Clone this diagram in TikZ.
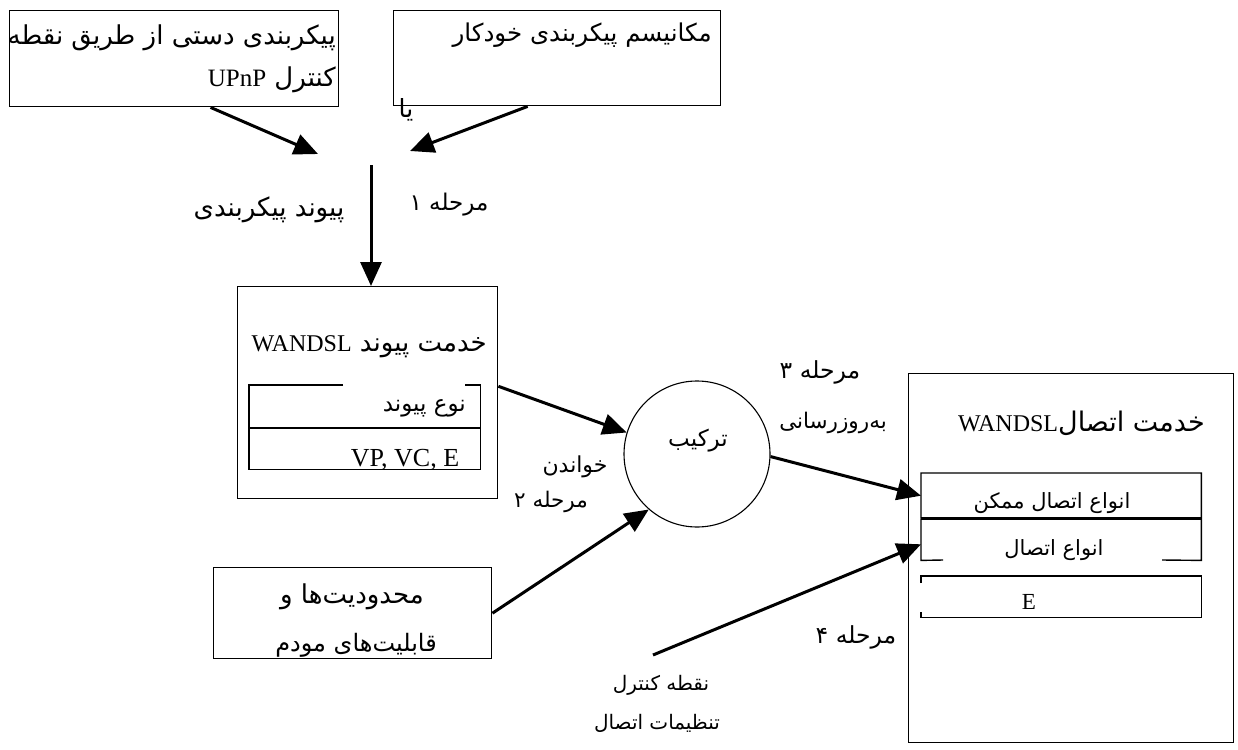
\documentclass[tikz,border=0pt]{standalone}
\usepackage{fontspec}
\setmainfont{Liberation Serif}
\newfontfamily\fa[Script=Arabic]{DejaVu Sans}
\TeXXeTstate=1
\usetikzlibrary{arrows.meta,calc}
\newcommand\fatxt[1]{\beginR #1\endR}
\newcommand\lat[2]{\beginL{\fontsize{#1}{#1}\selectfont\rmfamily #2}\endL}
\tikzset{
  box/.style={draw, line width=1.4pt, inner sep=0pt},
  hole/.style={inner sep=0pt},
  arr/.style={line width=3pt, -{Triangle[length=24pt,width=21pt]}},
  fatext/.style={font=\fa\fontsize{#1}{#1}\selectfont, inner sep=0pt},
  fatext/.default=25,
  latext/.style={font=\fontsize{#1}{#1}\selectfont, inner sep=0pt},
  latext/.default=23,
}
\begin{document}
\begin{tikzpicture}[x=1pt,y=-1pt]
\useasboundingbox (0,0) rectangle (1238,749);
% top boxes
\node[box, minimum width=329pt, minimum height=96pt, anchor=north west] (A) at (9,10) {};
\node[box, minimum width=327pt, minimum height=95pt, anchor=north west] (B) at (393,10) {};
\node[fatext=26, anchor=east] (A1) at (336,38) {\fatxt{پیکربندی دستی از طریق نقطه}};
\node[fatext=26, anchor=east] (A2) at (336,80) {\fatxt{کنترل \lat{25}{UPnP}}};
\node[fatext=24.5, anchor=east] (B1) at (712,35) {\fatxt{مکانیسم پیکربندی خودکار}};
\node[fatext] (ya) at (406,110) {\fatxt{یا}};
\coordinate (or1) at (318,154);
\coordinate (or2) at (410,151);
\draw[arr] ($(A.south west)!0.61!(A.south east)$) -- (or1);
\draw[arr] ($(B.south west)!0.41!(B.south east)$) -- (or2);
% step 1
\coordinate (s1) at (371,165);
\node[box, minimum width=260pt, minimum height=212pt, anchor=north west] (C) at (237,286) {};
\draw[arr] (s1) -- (s1 |- C.north);
\node[fatext=23] (m1) at (449,205) {\fatxt{مرحله ۱}};
\node[fatext=26] (pp) at (269,210) {\fatxt{پیوند پیکربندی}};
% WANDSL link service
\node[fatext=26, anchor=east] (Ct) at (487,347) {\fatxt{خدمت پیوند \lat{24}{WANDSL}}};
\node[hole, minimum width=231pt, minimum height=84pt, anchor=north west] (Ci) at (249,385) {};
\draw[line width=1.4pt] (343,385) -- (Ci.north west) -- (Ci.south west) -- (Ci.south east) -- (Ci.north east) -- (465,385);
\draw[line width=2.6pt] (249,428) -- (480,428);
\node[fatext=23, anchor=east] (Ct1) at (466,408) {\fatxt{نوع پیوند}};
\begin{scope}
\clip (250,430) rectangle (479,468);
\node[latext=26, anchor=base] (Ct2) at (405,466) {VP, VC, E};
\end{scope}
% combine circle
\node[draw, circle, line width=1.1pt, minimum size=146pt, inner sep=0pt] (K) at (697,454) {};
\node[fatext=23] (Kt) at (698,441) {\fatxt{ترکیب}};
\draw[arr] ($(C.north east)!0.47!(C.south east)$) -- (K.163);
\node[fatext=22] (rd) at (575,467) {\fatxt{خواندن}};
\node[fatext=21.5] (m2) at (551,502) {\fatxt{مرحله ۲}};
% modem box
\node[box, minimum width=278pt, minimum height=91pt, anchor=north west] (D) at (213,567) {};
\node[fatext=26] (D1) at (352,597) {\fatxt{محدودیت‌ها و}};
\node[fatext=24] (D2) at (356,645) {\fatxt{قابلیت‌های مودم}};
\draw[arr] (D.east) -- (K.229);
% connection service
\node[box, minimum width=325pt, minimum height=369pt, anchor=north west] (E) at (908,373) {};
\node[fatext=27, anchor=east] (Et) at (1205,423) {\fatxt{خدمت اتصال\lat{24}{WANDSL}}};
\node[hole, minimum width=280pt, minimum height=45pt, anchor=north west] (E1) at (921,473) {};
\node[hole, minimum width=280pt, minimum height=42pt, anchor=north west] (E2) at (921,518) {};
\node[hole, minimum width=280pt, minimum height=41pt, anchor=north west] (E3) at (921,576) {};
\draw[line width=1.4pt] (E1.south west) -- (E1.north west) -- (E1.north east) -- (E2.south east) -- (1162,560);
\draw[line width=1.4pt] (943,560) -- (E2.south west) -- (E1.south west);
\draw[line width=2.6pt] (E1.south west) -- (E1.south east);
\draw[line width=1.4pt] (921,583) -- (E3.north west) -- (E3.north east) -- (E3.south east) -- (E3.south west) -- (921,612);
\begin{scope}
\clip (922,474) rectangle (1200,516);
\node[fatext=21] (E1t) at (1052,503) {\fatxt{انواع اتصال ممکن}};
\end{scope}
\begin{scope}
\clip (922,520) rectangle (1200,560);
\node[fatext=21] (E2t) at (1054,550) {\fatxt{انواع اتصال}};
\end{scope}
\node[latext=23] (E3t) at (1029,602) {E};
% step 3 and 4
\draw[arr] (K.-2) -- (E1.west);
\node[fatext=23.5] (m3) at (820,372) {\fatxt{مرحله ۳}};
\node[fatext=21.5] (up) at (833,423) {\fatxt{به‌روزرسانی}};
\coordinate (ctrl) at (653,655);
\draw[arr] (ctrl) -- ($(E2.north west)!0.62!(E2.south west)$);
\node[fatext=23.5] (m4) at (856,637) {\fatxt{مرحله ۴}};
\node[fatext=20] (cp1) at (661,685) {\fatxt{نقطه کنترل}};
\node[fatext=20] (cp2) at (657,723) {\fatxt{تنظیمات اتصال}};
\end{tikzpicture}
\end{document}
